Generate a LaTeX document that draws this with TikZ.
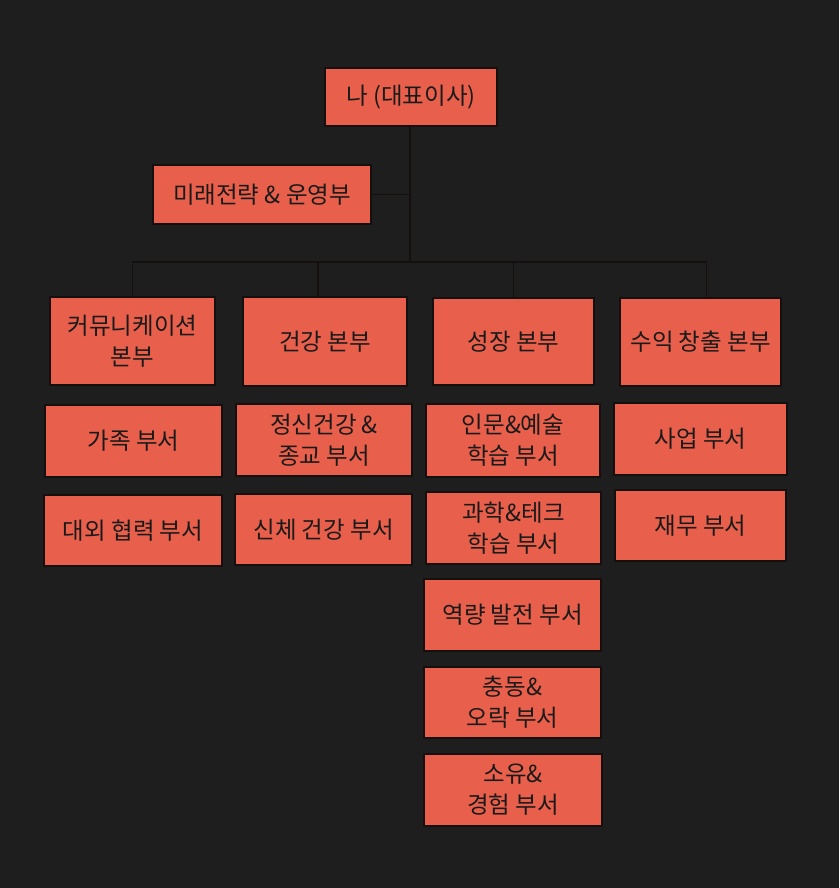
\documentclass[tikz,border=0pt]{standalone}
\usepackage{fontspec}
\setmainfont{Noto Sans CJK KR}
\definecolor{bgc}{HTML}{1E1E1E}
\definecolor{boxc}{HTML}{E8604C}
\definecolor{edgec}{HTML}{150F0D}
\definecolor{txtc}{HTML}{1A1A1A}
\tikzset{
  orgbox/.style={draw=edgec, line width=1.6pt, fill=boxc, text=txtc, align=center,
    font=\fontsize{23.5}{31}\selectfont, inner sep=0pt, anchor=center},
  conn/.style={draw=edgec, line width=1.6pt}
}
\newcommand{\bx}[6]{\node[orgbox, minimum width=#4pt, minimum height=#5pt] (#1) at (#2,#3) {#6};}
\begin{document}
\begin{tikzpicture}[x=1pt,y=-1pt]
\fill[bgc] (0,0) rectangle (839,888);
\useasboundingbox (0,0) rectangle (839,888);
\bx{ceo}{411}{97}{172}{58}{나 (대표이사)}
\bx{ops}{262}{194.5}{218}{59}{미래전략 \& 운영부}
\bx{comm}{132.5}{341}{165}{88}{커뮤니케이션\\본부}
\bx{health}{325}{341.5}{164}{89}{건강 본부}
\bx{growth}{513.5}{341.5}{161}{87}{성장 본부}
\bx{rev}{700.5}{342}{161}{88}{수익 창출 본부}
\bx{fam}{133.5}{441}{177}{72}{가족 부서}
\bx{ext}{133}{530.5}{178}{71}{대외 협력 부서}
\bx{mental}{324}{440}{176}{72}{정신건강 \&\\종교 부서}
\bx{body}{323.5}{529.5}{177}{71}{신체 건강 부서}
\bx{hum}{513}{440.5}{174}{73}{인문\&예술\\학습 부서}
\bx{sci}{513.5}{528}{175}{72}{과학\&테크\\학습 부서}
\bx{cap}{512.5}{615}{177}{72}{역량 발전 부서}
\bx{imp}{512.5}{702.5}{177}{71}{충동\&\\오락 부서}
\bx{own}{513}{790}{178}{72}{소유\&\\경험 부서}
\bx{biz}{700.5}{439}{173}{72}{사업 부서}
\bx{fin}{700.5}{525.5}{171}{71}{재무 부서}
\coordinate (j) at (410,262);
\draw[conn] (ceo.south -| j) -- (j);
\draw[conn] (ops.east) -- (ops.east -| j);
\draw[conn] (comm.north) |- (j) -| ([xshift=6pt]rev.north);
\draw[conn] ([xshift=-7pt]health.north) -- ([xshift=-7pt]health.north |- j);
\draw[conn] (growth.north) -- (growth.north |- j);
\end{tikzpicture}
\end{document}
